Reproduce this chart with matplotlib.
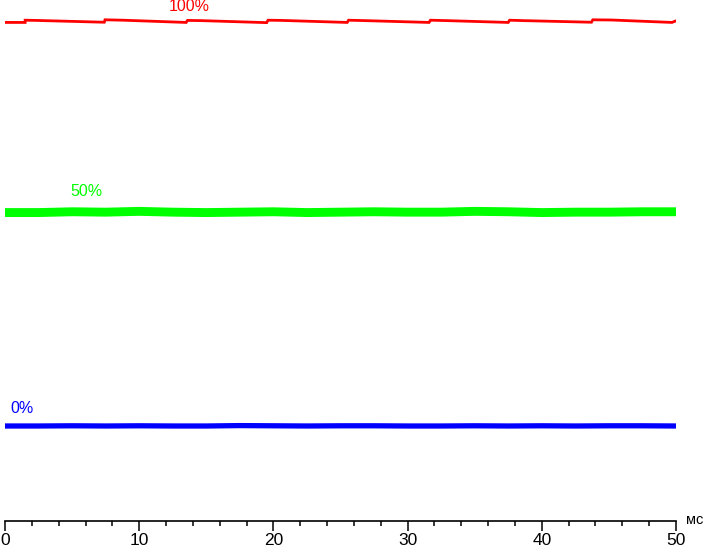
import matplotlib.pyplot as plt
import numpy as np

plt.rcParams['font.family'] = ['Liberation Sans', 'DejaVu Sans']

# relative brightness (%) versus time (ms)
red_t = [0, 1.5, 1.5, 2.3, 7.4, 7.45, 8.8, 13.5, 13.6, 14.6, 19.5, 19.6, 20.6,
         25.5, 25.6, 26.8, 31.6, 31.7, 32.9, 37.5, 37.6, 38.6, 43.7, 43.8, 45.2,
         49.7, 50]
red_v = [99.65, 99.65, 100.2, 100.15, 99.7, 100.3, 100.2, 99.65, 100.15, 100.1,
         99.6, 100.2, 100.15, 99.65, 100.2, 100.1, 99.65, 100.2, 100.1, 99.65,
         100.2, 100.1, 99.7, 100.3, 100.25, 99.65, 100.05]

green_t = [0, 2.5, 5, 7.5, 10, 12.5, 15, 17.5, 20, 22.5, 25, 27.5, 30, 32.5,
           35, 37.5, 40, 42.5, 45, 47.5, 50]
green_v = [52.7, 52.7, 52.9, 52.8, 53.0, 52.8, 52.7, 52.8, 52.9, 52.7, 52.8,
           52.9, 52.8, 52.8, 53.0, 52.9, 52.7, 52.8, 52.8, 52.9, 52.9]

blue_t = [0, 2.5, 5, 7.5, 10, 12.5, 15, 17.5, 20, 22.5, 25, 27.5, 30, 32.5,
          35, 37.5, 40, 42.5, 45, 47.5, 50]
blue_v = [0.0, 0.0, 0.05, 0.0, 0.05, 0.0, 0.0, 0.1, 0.05, 0.0, 0.05, 0.05,
          0.0, 0.0, 0.05, 0.0, 0.05, 0.0, 0.05, 0.05, 0.0]

labels = ['100%', '50%', '0%']
label_t = [13.7, 6.1, 1.3]
label_v = [103.7, 57.8, 4.3]

fig = plt.figure(figsize=(7.03, 5.49), dpi=100)
ax = fig.add_axes([5 / 703, 28 / 549, 671 / 703, 521 / 549])

ax.plot(red_t, red_v, color='#ff0000', lw=2.0, solid_joinstyle='miter')
ax.plot(green_t, green_v, color='#00ff00', lw=6.4)
ax.plot(blue_t, blue_v, color='#0000ff', lw=3.8)

colors = ['#ff0000', '#00ff00', '#0000ff']
for lab, t, v, c in zip(labels, label_t, label_v, colors):
    ax.text(t, v, lab, color=c, fontsize=11.5, ha='center', va='center')

ax.set_xlim(0, 50)
ax.set_ylim(-23.46, 105.19)
for s in ['left', 'right', 'top']:
    ax.spines[s].set_visible(False)
ax.spines['bottom'].set_linewidth(1.2)
ax.set_yticks([])
ax.set_xticks(np.arange(0, 51, 10))
ax.set_xticks(np.arange(0, 51, 2), minor=True)
ax.tick_params(axis='x', which='major', length=7.5, width=1.1, labelsize=12.5,
               pad=1, direction='out')
ax.tick_params(axis='x', which='minor', length=3.8, width=1.1)
for lbl in ax.get_xticklabels():
    lbl.set_clip_on(False)
fig.text(686 / 703, 1 - 520 / 549, 'мс', fontsize=10.5, ha='left', va='center')

fig.savefig('out.png', dpi=100)
